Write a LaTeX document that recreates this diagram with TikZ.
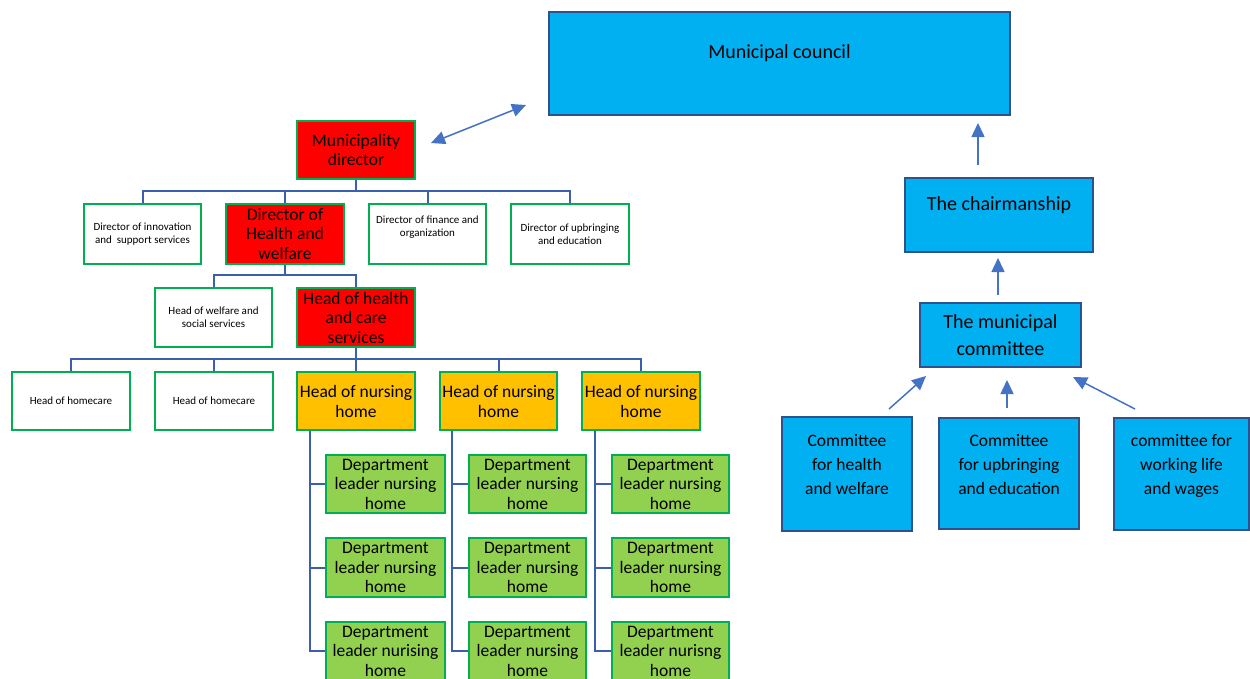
\documentclass[tikz,border=0pt]{standalone}
\usepackage{fontspec}
\setmainfont{Carlito}
\usetikzlibrary{arrows.meta}
\definecolor{cyanfill}{HTML}{00B0F0}
\definecolor{bborder}{HTML}{2F528F}
\definecolor{gborder}{HTML}{00B050}
\definecolor{lineblue}{HTML}{4472C4}
\definecolor{treeblue}{HTML}{3A5FAD}
\definecolor{redfill}{HTML}{FF0000}
\definecolor{orangefill}{HTML}{FFC000}
\definecolor{greenfill}{HTML}{92D050}
\begin{document}
\begin{tikzpicture}[x=1pt,y=-1pt,
 sz/.style 2 args={minimum width=#1pt, minimum height=#2pt},
 box/.style={rectangle, inner sep=0pt, align=center, line width=1.8pt},
 bluebox/.style={box, draw=bborder, fill=cyanfill, font=\fontsize{17.5}{24}\selectfont},
 redbox/.style={box, draw=gborder, fill=redfill, font=\fontsize{17.5}{19.5}\selectfont},
 whitebox/.style={box, draw=gborder, fill=white, font=\fontsize{11}{13}\selectfont},
 orangebox/.style={box, draw=gborder, fill=orangefill, font=\fontsize{17.5}{20}\selectfont},
 greenbox/.style={box, draw=gborder, fill=greenfill, font=\fontsize{17.5}{19.5}\selectfont},
 conn/.style={draw=treeblue, line width=2pt},
 arr/.style={draw=lineblue, line width=1.5pt, -{Triangle[length=14pt,width=13pt]}},
 darr/.style={draw=lineblue, line width=1.5pt, {Triangle[length=14pt,width=13pt]}-{Triangle[length=14pt,width=13pt]}},
]
\useasboundingbox (0,0) rectangle (1250,678);

% ---- right side (blue) ----
\node[bluebox, sz={461}{103}, font=\fontsize{20}{24}\selectfont] (council) at (779.5,63.5)
  {\begin{tabular}{@{}c@{}}Municipal council\\[19pt]\end{tabular}};
\node[bluebox, sz={188}{74}, font=\fontsize{20}{24}\selectfont] (chair) at (999,215)
  {\begin{tabular}{@{}c@{}}The chairmanship\\[18pt]\end{tabular}};
\node[bluebox, sz={161}{64}, font=\fontsize{20}{27}\selectfont] (mcom) at (1000.5,335)
  {The municipal\\committee};
\node[bluebox, sz={130}{114}] (com1) at (847,474)
  {\begin{tabular}{@{}c@{}}Committee\\for health\\and welfare\\[16pt]\end{tabular}};
\node[bluebox, sz={140}{111}] (com2) at (1009,473.5)
  {\begin{tabular}{@{}c@{}}Committee\\for upbringing\\and education\\[16pt]\end{tabular}};
\node[bluebox, sz={135}{112}] (com3) at (1181.5,474)
  {\begin{tabular}{@{}c@{}}committee for\\working life\\and wages\\[16pt]\end{tabular}};

\coordinate (ch1) at (978,165); \coordinate (ch2) at (978,123);
\coordinate (mc1) at (998,295); \coordinate (mc2) at (998,258);
\coordinate (c1a) at (889,409); \coordinate (c1b) at (926,376);
\coordinate (c2a) at (1007,408); \coordinate (c2b) at (1007,380);
\coordinate (c3a) at (1135,409); \coordinate (c3b) at (1073,377);
\draw[arr] (ch1) -- (ch2);
\draw[arr] (mc1) -- (mc2);
\draw[arr] (c1a) -- (c1b);
\draw[arr] (c2a) -- (c2b);
\draw[arr] (c3a) -- (c3b);

% ---- left side (organisation) ----
\node[redbox, sz={118}{58}] (mdir) at (356,150) {Municipality\\director};
\coordinate (da) at (431,143); \coordinate (db) at (526,105);
\draw[darr] (da) -- (db);

\node[whitebox, sz={117}{60}] (inno) at (142.5,234) {Director of innovation\\and\ \ support services};
\node[redbox, sz={118}{60}] (dhw) at (285,234) {Director of\\Health and\\welfare};
\node[whitebox, sz={117}{60}] (fin) at (427.5,234)
  {\begin{tabular}{@{}c@{}}Director of finance and\\organization\\[14pt]\end{tabular}};
\node[whitebox, sz={118}{60}] (upb) at (570,234) {Director of upbringing\\and education};

\node[whitebox, sz={117}{59}] (welf) at (213.5,317.5) {Head of welfare and\\social services};
\node[redbox, sz={118}{59}] (hhc) at (356,317.5) {Head of health\\and care\\services};

\node[whitebox, sz={118}{58}] (hc1) at (71,401) {Head of homecare};
\node[whitebox, sz={118}{58}] (hc2) at (214,401) {Head of homecare};
\node[orangebox, sz={118}{58}] (nh1) at (356,401) {Head of nursing\\home};
\node[orangebox, sz={117}{58}] (nh2) at (498.5,401) {Head of nursing\\home};
\node[orangebox, sz={118}{58}] (nh3) at (641,401) {Head of nursing\\home};

\node[greenbox, sz={119}{58}] (g11) at (385.5,484) {Department\\leader nursing\\home};
\node[greenbox, sz={119}{59}] (g12) at (385.5,567.5) {Department\\leader nursing\\home};
\node[greenbox, sz={119}{58}] (g13) at (385.5,651) {Department\\leader nurising\\home};
\node[greenbox, sz={117}{58}] (g21) at (527.5,484) {Department\\leader nursing\\home};
\node[greenbox, sz={117}{59}] (g22) at (527.5,567.5) {Department\\leader nursing\\home};
\node[greenbox, sz={117}{58}] (g23) at (527.5,651) {Department\\leader nursing\\home};
\node[greenbox, sz={117}{58}] (g31) at (670.5,484) {Department\\leader nursing\\home};
\node[greenbox, sz={117}{59}] (g32) at (670.5,567.5) {Department\\leader nursing\\home};
\node[greenbox, sz={117}{58}] (g33) at (670.5,651) {Department\\leader nurisng\\home};

% tree connectors
\coordinate (b1) at (356,191);
\draw[conn] (mdir.south) -- (b1);
\draw[conn] (inno.north) |- (b1);
\draw[conn] (dhw.north) |- (b1);
\draw[conn] (fin.north) |- (b1);
\draw[conn] (upb.north) |- (b1);

\coordinate (b2) at (285,275);
\draw[conn] (dhw.south) -- (b2);
\draw[conn] (welf.north) |- (b2);
\draw[conn] (hhc.north) |- (b2);

\coordinate (b3) at (356,359);
\draw[conn] (hhc.south) -- (b3);
\draw[conn] (hc1.north) |- (b3);
\draw[conn] (hc2.north) |- (b3);
\draw[conn] (nh1.north) |- (b3);
\draw[conn] (nh2.north) |- (b3);
\draw[conn] (nh3.north) |- (b3);

\coordinate (t1) at (310,431);
\coordinate (t2) at (452,431);
\coordinate (t3) at (595,431);
\foreach \c in {1,2,3} {
  \foreach \r in {1,2,3} {
    \draw[conn] (t\c) |- (g\c\r.west);
  }
}
\end{tikzpicture}
\end{document}
